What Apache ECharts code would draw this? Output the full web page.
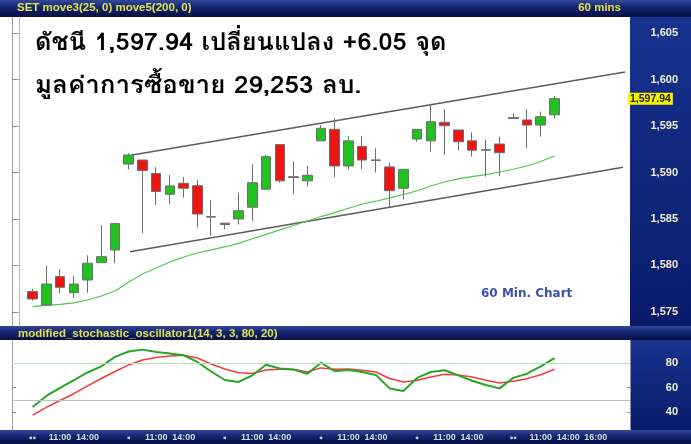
<!DOCTYPE html>
<html><head><meta charset="utf-8">
<script src="https://cdn.jsdelivr.net/npm/echarts@6/dist/echarts.min.js"></script>
<style>html,body{margin:0;padding:0;background:#0b1a5c;}#c{width:691px;height:444px;}</style>
</head><body><div id="c"></div>
<script>
// x slots (60-min bars), tick labels shown on the bottom time axis
const xLabels = ['', '▪▪', '', '11:00', '', '14:00', '', '',
  '▪', '', '11:00', '', '14:00', '', '',
  '▪', '', '11:00', '', '14:00', '', '',
  '▪', '', '11:00', '', '14:00', '', '',
  '▪', '', '11:00', '', '14:00', '', '',
  '▪▪', '', '11:00', '', '14:00', '', '16:00', '', ''];
const firstSlot = 1;
// [open, close, low, high]
const candles = [
  [1577.2, 1576.4, 1576.2, 1577.5],
  [1575.75, 1578.0, 1575.7, 1579.95],
  [1578.8, 1577.65, 1577.0, 1579.6],
  [1577.07, 1578.0, 1576.5, 1578.9],
  [1578.44, 1580.24, 1577.07, 1581.1],
  [1580.3, 1580.95, 1580.3, 1584.35],
  [1581.66, 1584.5, 1580.24, 1584.5],
  [1590.9, 1591.88, 1590.34, 1592.06],
  [1591.34, 1590.2, 1583.5, 1591.34],
  [1589.9, 1587.96, 1586.5, 1590.56],
  [1587.66, 1588.55, 1586.6, 1589.73],
  [1588.84, 1588.3, 1587.3, 1589.5],
  [1588.58, 1585.53, 1584.1, 1589.2],
  [1585.25, 1585.2, 1583.2, 1587.0],
  [1584.55, 1584.4, 1583.9, 1584.55],
  [1585.0, 1585.89, 1584.4, 1587.83],
  [1586.26, 1588.9, 1584.8, 1590.9],
  [1588.2, 1591.7, 1588.2, 1591.9],
  [1593.0, 1589.1, 1588.9, 1593.0],
  [1589.55, 1589.45, 1587.7, 1591.2],
  [1589.1, 1589.7, 1588.5, 1590.7],
  [1593.4, 1594.75, 1593.4, 1595.1],
  [1594.64, 1590.7, 1589.5, 1595.83],
  [1590.7, 1593.4, 1590.3, 1593.9],
  [1592.8, 1591.34, 1590.34, 1593.9],
  [1591.35, 1591.3, 1590.0, 1592.6],
  [1590.6, 1588.04, 1586.26, 1591.05],
  [1588.3, 1590.34, 1587.1, 1590.34],
  [1593.6, 1594.64, 1593.3, 1594.64],
  [1593.4, 1595.46, 1592.24, 1597.37],
  [1595.4, 1595.03, 1591.9, 1596.8],
  [1594.57, 1593.3, 1592.4, 1594.57],
  [1593.4, 1592.4, 1591.7, 1594.3],
  [1592.45, 1592.4, 1589.55, 1593.5],
  [1593.06, 1592.13, 1589.6, 1593.85],
  [1595.8, 1595.9, 1595.8, 1596.36],
  [1595.65, 1595.1, 1592.6, 1596.8],
  [1595.1, 1596.0, 1593.85, 1596.54],
  [1596.2, 1597.94, 1595.8, 1598.2]
];
const movingAvg = [1575.57, 1575.70, 1575.81, 1575.97, 1576.29, 1576.72, 1577.26, 1578.23, 1579.09, 1579.73,
  1580.38, 1580.91, 1581.34, 1581.67, 1581.99, 1582.38, 1582.87, 1583.35, 1583.82, 1584.30,
  1584.78, 1585.26, 1585.69, 1586.15, 1586.61, 1586.91, 1587.26, 1587.63, 1588.03, 1588.55,
  1588.98, 1589.32, 1589.55, 1589.77, 1590.05, 1590.35, 1590.70, 1591.18, 1591.77];
const stochFast = [44.4, 53.3, 59.8, 66.0, 72.3, 77.3, 84.9, 89.3, 90.8, 88.9, 87.6, 86.2, 80.8, 73.1, 66.2,
  64.6, 70.0, 78.6, 75.5, 74.6, 71.3, 80.2, 73.3, 74.3, 72.7, 70.3, 59.4, 57.3, 67.9, 72.7, 74.1, 69.9,
  65.6, 62.2, 59.4, 67.9, 71.3, 77.2, 84.0];
const stochSlow = [37.7, 44.0, 49.6, 55.1, 61.4, 67.4, 73.1, 78.4, 82.4, 84.5, 85.7, 86.2, 84.0, 79.2, 75.1,
  72.1, 71.5, 74.3, 74.9, 74.9, 72.7, 76.0, 74.9, 75.1, 74.1, 72.7, 67.4, 64.6, 66.0, 68.7, 70.9, 70.3,
  68.7, 66.0, 63.8, 65.2, 67.3, 70.5, 74.9];
const priceTicks = [1575, 1580, 1585, 1590, 1595, 1600, 1605];
const stochTicks = [40, 60, 80];
const upperTrend = [[8.24, 1591.88], [44.14, 1600.81]];
const lowerTrend = [[8.09, 1581.48], [44.0, 1590.56]];
const stochLevels = [80, 50];
const headline1 = 'ดัชนี 1,597.94 เปลี่ยนแปลง +6.05 จุด';
const headline2 = 'มูลค่าการซื้อขาย 29,253 ลบ.';

const fmt = v => Number(v).toLocaleString('en-US');
const lastClose = candles[candles.length - 1][1];
const indexed = arr => arr.map((v, i) => [i + firstSlot, v]);
const thai = 'Tahoma, Waree, Garuda, Loma, "Noto Sans Thai Looped", "Noto Sans Thai", "Noto Sans", sans-serif';
const sans = '"Liberation Sans", Arial, sans-serif';

const barGrad = new echarts.graphic.LinearGradient(0, 0, 0, 1, [
  {offset: 0, color: '#33489a'}, {offset: 0.45, color: '#13246e'}, {offset: 1, color: '#060f44'}]);
const panelGrad = new echarts.graphic.LinearGradient(0, 0, 0, 1, [
  {offset: 0, color: '#16338f'}, {offset: 1, color: '#0a1c6a'}]);

const chart = echarts.init(document.getElementById('c'));
const axisLabelStyle = {color: '#f2efd6', fontSize: 11, fontWeight: 'bold', fontFamily: sans, align: 'right', margin: 48};
const barText = {color: '#e4e24c', fontSize: 11.5, fontWeight: 'bold', fontFamily: sans};

chart.setOption({
  animation: false,
  backgroundColor: '#0b1a5c',
  graphic: [
    {type: 'rect', z: -10, shape: {x: 0, y: 0, width: 691, height: 17}, style: {fill: barGrad}},
    {type: 'rect', z: -10, shape: {x: 0, y: 17, width: 630, height: 309}, style: {fill: '#ffffff'}},
    {type: 'rect', z: -10, shape: {x: 630, y: 17, width: 61, height: 309}, style: {fill: panelGrad}},
    {type: 'rect', z: -10, shape: {x: 0, y: 326, width: 691, height: 14}, style: {fill: barGrad}},
    {type: 'rect', z: -10, shape: {x: 0, y: 340, width: 630, height: 90}, style: {fill: '#ffffff'}},
    {type: 'rect', z: -10, shape: {x: 630, y: 340, width: 61, height: 90}, style: {fill: panelGrad}},
    {type: 'rect', z: -10, shape: {x: 0, y: 430, width: 691, height: 14}, style: {fill: barGrad}},
    {type: 'text', x: 35, y: 33, scaleX: 1.055, z: 10,
      style: {text: headline1, fill: '#000', font: 'bold 24px ' + thai, verticalAlign: 'top', textVerticalAlign: 'top'}},
    {type: 'text', x: 35, y: 76, scaleX: 1.08, z: 10,
      style: {text: headline2, fill: '#000', font: 'bold 24px ' + thai, verticalAlign: 'top', textVerticalAlign: 'top'}}
  ],
  title: [
    {text: 'SET move3(25, 0) move5(200, 0)', left: 17, top: 2, padding: 0, textStyle: barText},
    {text: '60 mins', right: 70, top: 2, padding: 0, textStyle: barText},
    {text: '60 Min. Chart', left: 481, top: 288, padding: 0,
      textStyle: {color: '#3853ae', fontSize: 12, fontWeight: 'bold', fontFamily: '"DejaVu Sans", sans-serif'}},
    {text: 'modified_stochastic_oscillator1(14, 3, 3, 80, 20)', left: 18, top: 328, padding: 0, textStyle: barText}
  ],
  grid: [
    {left: 12, right: 61, top: 17, height: 309},
    {left: 12, right: 61, top: 340, height: 90}
  ],
  xAxis: [
    {type: 'category', gridIndex: 0, data: xLabels, boundaryGap: true,
      axisLine: {show: false}, axisTick: {show: false}, axisLabel: {show: false}},
    {type: 'category', gridIndex: 1, data: xLabels, boundaryGap: true,
      axisLine: {show: false}, axisTick: {show: false},
      axisLabel: {interval: 0, margin: 3, color: '#dcdce6', fontSize: 9, fontWeight: 'bold', fontFamily: sans,
        formatter: (v, i) => xLabels[i] && xLabels[i].indexOf('▪') >= 0 ? '{d|' + xLabels[i] + '}' : xLabels[i],
        rich: {d: {fontSize: 10, color: '#c8c8d8', fontWeight: 'bold'}}}},
    {type: 'value', gridIndex: 0, min: -0.5, max: 44.5, show: false}
  ],
  yAxis: [
    {type: 'value', gridIndex: 0, position: 'right', min: 1573.49, max: 1606.72, splitLine: {show: false},
      axisLine: {show: true, lineStyle: {color: '#a8a8a8', type: 'dotted'}},
      axisTick: {show: true, inside: true, length: 3, customValues: priceTicks, lineStyle: {color: '#999'}},
      axisLabel: Object.assign({customValues: priceTicks, formatter: v => fmt(v)}, axisLabelStyle)},
    {type: 'value', gridIndex: 1, position: 'right', min: 25.7, max: 98.6, splitLine: {show: false},
      axisLine: {show: true, lineStyle: {color: '#a8a8a8', type: 'dotted'}},
      axisTick: {show: true, inside: true, length: 3, customValues: stochTicks, lineStyle: {color: '#999'}},
      axisLabel: Object.assign({customValues: stochTicks}, axisLabelStyle)},
    {type: 'value', gridIndex: 0, position: 'left', min: 1573.49, max: 1606.72, splitLine: {show: false},
      axisLine: {show: true, lineStyle: {color: '#8a8a8a', type: 'dotted'}},
      axisTick: {show: true, inside: true, length: 4, customValues: priceTicks, lineStyle: {color: '#888'}},
      axisLabel: {show: false}},
    {type: 'value', gridIndex: 1, position: 'left', min: 25.7, max: 98.6, splitLine: {show: false},
      axisLine: {show: true, lineStyle: {color: '#8a8a8a', type: 'dotted'}},
      axisTick: {show: true, inside: true, length: 4, customValues: stochTicks, lineStyle: {color: '#888'}},
      axisLabel: {show: false}}
  ],
  series: [
    {type: 'line', xAxisIndex: 2, yAxisIndex: 0, data: upperTrend, symbol: 'none', silent: true,
      lineStyle: {color: '#5c5c5c', width: 1.5}, z: 1},
    {type: 'line', xAxisIndex: 2, yAxisIndex: 0, data: lowerTrend, symbol: 'none', silent: true,
      lineStyle: {color: '#5c5c5c', width: 1.5}, z: 1},
    {type: 'line', xAxisIndex: 0, yAxisIndex: 0, data: indexed(movingAvg), symbol: 'none', smooth: false,
      lineStyle: {color: '#4cc94c', width: 1.2}, z: 2},
    {type: 'candlestick', xAxisIndex: 0, yAxisIndex: 0, barWidth: 10,
      data: candles.map((c, i) => [i + firstSlot].concat(c)), encode: {x: 0, y: [1, 2, 3, 4]},
      itemStyle: {color: '#1fc21f', color0: '#ee1414', borderColor: '#6e6e6e', borderColor0: '#6e6e6e', borderWidth: 1},
      markLine: {silent: true, symbol: 'none', lineStyle: {color: 'rgba(0,0,0,0)', width: 0},
        label: {position: 'end', distance: -2, formatter: () => fmt(lastClose), backgroundColor: '#f8f400',
          color: '#222', fontSize: 10.5, fontWeight: 'bold', fontFamily: sans, padding: [1, 2, 0, 2]},
        data: [{yAxis: lastClose}]}, z: 3},
    {type: 'line', xAxisIndex: 1, yAxisIndex: 1, data: indexed(stochSlow), symbol: 'none',
      lineStyle: {color: '#f03c3c', width: 1.5},
      markLine: {silent: true, symbol: 'none', label: {show: false},
        data: [{yAxis: stochLevels[0], lineStyle: {color: '#b2e2b2', width: 1, type: 'solid'}},
               {yAxis: stochLevels[1], lineStyle: {color: '#bdbdbd', width: 1, type: 'solid'}}]}},
    {type: 'line', xAxisIndex: 1, yAxisIndex: 1, data: indexed(stochFast), symbol: 'none',
      lineStyle: {color: '#26a626', width: 2}}
  ]
});
</script></body></html>
